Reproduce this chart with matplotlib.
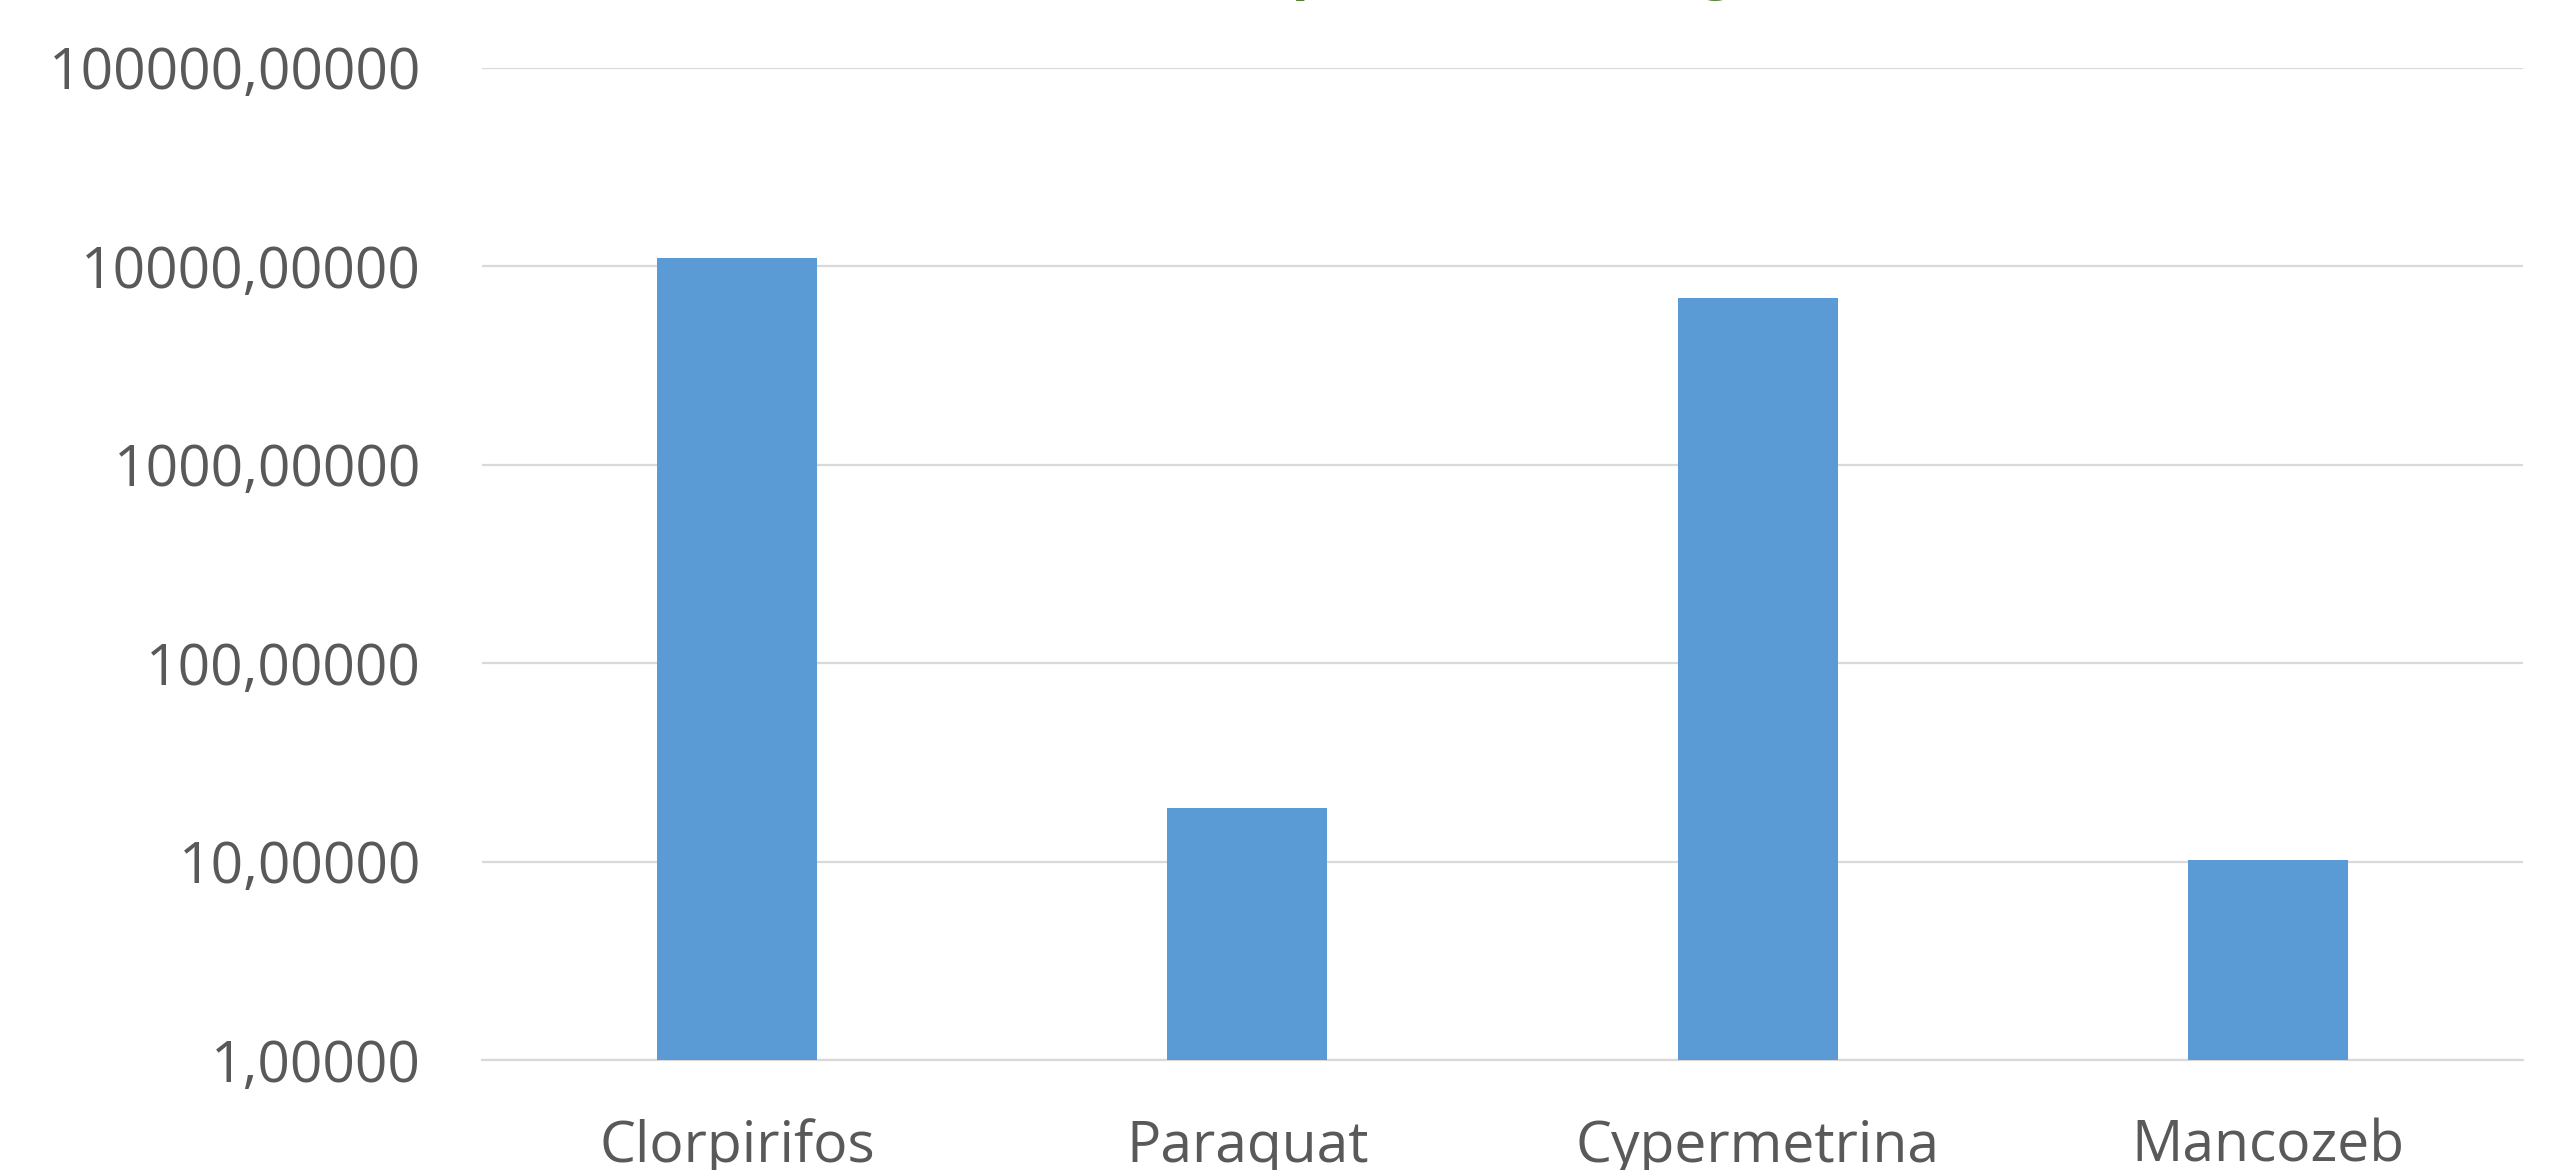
import numpy as np
import matplotlib.pyplot as plt
from matplotlib.ticker import FixedLocator, FuncFormatter

# data
categories = ['Clorpirifos', 'Paraquat', 'Cypermetrina', 'Mancozeb']
values = [10960, 18.6, 6940, 10.25]
y_ticks = [1, 10, 100, 1000, 10000, 100000]
title = 'Concentración promedio en agua'

plt.rcParams['font.family'] = ['Open Sans', 'DejaVu Sans']

fig = plt.figure(figsize=(25.57, 11.7), dpi=100)
ax = fig.add_axes([0.1885, 0.0938, 0.9867 - 0.1885, 0.9421 - 0.0938])

x = np.arange(len(categories))
ax.bar(x, values, width=0.314, color='#5B9BD5', zorder=3)

ax.set_yscale('log')
ax.set_ylim(1, 100000)
ax.set_xlim(-0.5, len(categories) - 0.5)
ax.yaxis.set_major_locator(FixedLocator(y_ticks))
ax.yaxis.set_minor_locator(FixedLocator([]))
ax.yaxis.set_major_formatter(FuncFormatter(lambda v, p: f'{v:.5f}'.replace('.', ',')))

ax.set_xticks(x)
ax.set_xticklabels(categories)

ax.grid(axis='y', color='#D9D9D9', linewidth=1.6, zorder=0)
for s in ['top', 'right', 'left']:
    ax.spines[s].set_visible(False)
ax.spines['bottom'].set_color('#D9D9D9')
ax.spines['bottom'].set_linewidth(1.6)

ax.tick_params(axis='y', length=0, pad=44, labelsize=41, labelcolor='#595959')
ax.tick_params(axis='x', length=0, pad=42, labelsize=41, labelcolor='#595959')

# title sits mostly above the canvas, only descenders visible
fig.text(0.522, 1.011, title, ha='center', va='baseline', fontsize=41,
         fontweight='bold', color='#548235')

fig.savefig('out.png', dpi=100)
